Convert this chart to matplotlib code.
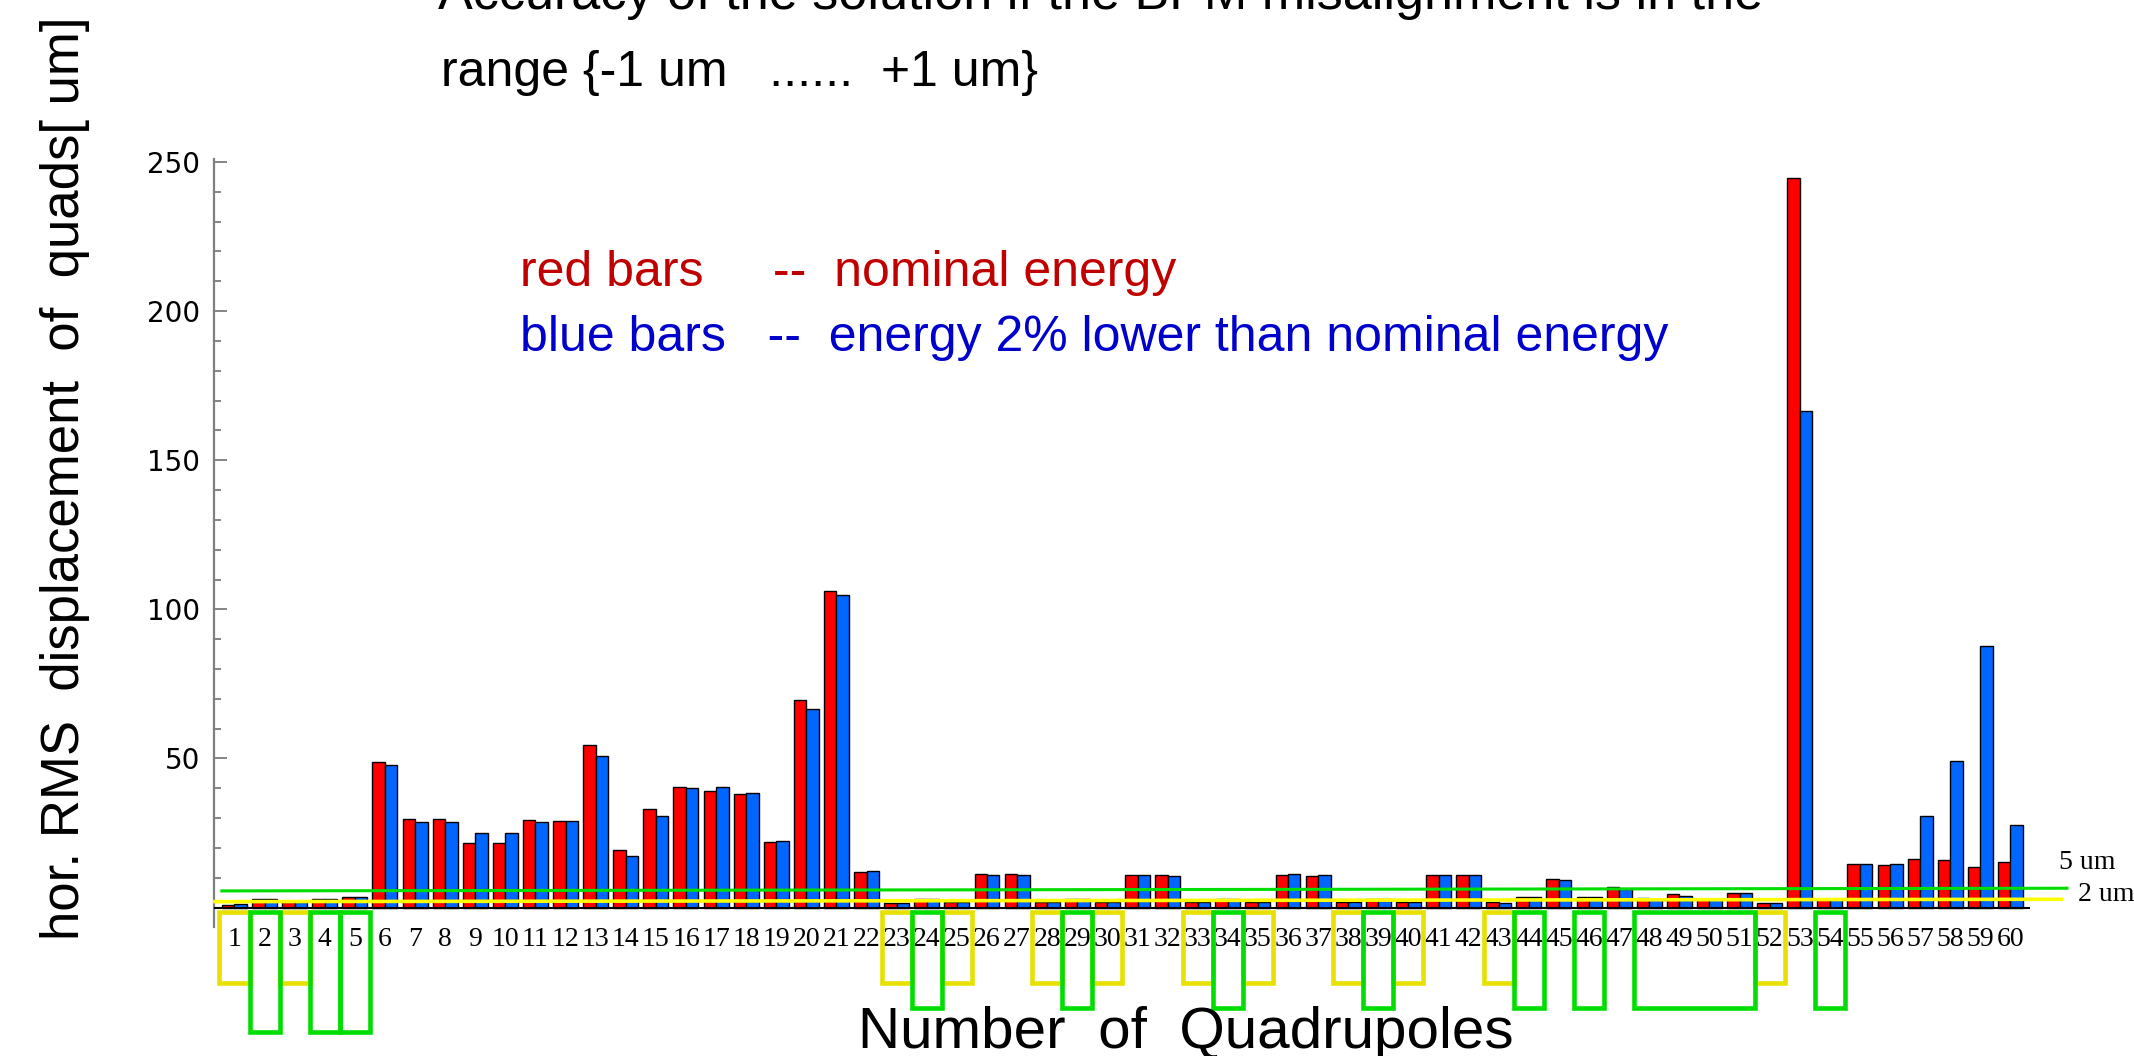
import matplotlib
matplotlib.use('Agg')
import matplotlib.pyplot as plt
from matplotlib.patches import Rectangle
from matplotlib.ticker import MultipleLocator
import numpy as np

# data
quads = list(range(1, 61))
red_nominal = [0.9, 2.8, 1.8, 2.8, 3.5, 48.7, 29.6, 29.6, 21.8, 21.7,
               29.4, 29.1, 54.4, 19.3, 33.2, 40.6, 39.1, 38.0, 21.9, 69.6,
               106.0, 12.1, 1.7, 2.9, 1.8, 11.2, 11.2, 1.8, 3.0, 1.8,
               10.8, 10.8, 1.8, 3.0, 1.8, 10.8, 10.6, 1.8, 3.0, 1.8,
               11.1, 11.1, 1.8, 3.7, 9.6, 3.7, 6.8, 3.2, 4.4, 3.0,
               4.9, 1.6, 244.6, 3.0, 14.6, 14.4, 16.2, 15.9, 13.5, 15.2]
blue_lower = [1.1, 2.8, 1.8, 2.8, 3.5, 47.7, 28.8, 28.6, 24.9, 25.1,
              28.8, 29.1, 50.7, 17.4, 30.6, 40.2, 40.6, 38.5, 22.5, 66.7,
              104.7, 12.3, 1.7, 3.0, 1.8, 10.8, 10.8, 1.8, 3.0, 1.8,
              10.8, 10.7, 1.8, 3.0, 1.8, 11.2, 10.8, 1.8, 3.0, 1.8,
              11.1, 11.1, 1.6, 3.6, 9.2, 3.4, 6.1, 3.0, 3.9, 2.8,
              4.8, 1.5, 166.4, 3.0, 14.7, 14.6, 30.7, 49.2, 87.7, 27.8]

limit_labels = ['5 um', '2 um']
green_level = [5.6, 6.5]    # drawn slightly tilted in the original
yellow_level = [2.0, 2.8]

yellow_boxes = [(1, 1), (3, 3), (23, 23), (25, 25), (28, 28), (30, 30), (33, 33),
                (35, 35), (38, 38), (40, 40), (43, 43), (52, 52)]
green_long = [(2, 2), (4, 4), (5, 5)]
green_short = [(24, 24), (29, 29), (34, 34), (39, 39), (44, 44), (46, 46),
               (48, 51), (54, 54)]

W, H = 2134, 1056


def fx(px):
    return px / W


def fy(py):
    return 1 - py / H


fig = plt.figure(figsize=(W / 100, H / 100), dpi=100)
ax = fig.add_axes([fx(214), fy(927), fx(2030) - fx(214), fy(159) - fy(927)])

x = np.array(quads)
w = 0.415
ax.bar(x - w, red_nominal, w, align='edge', color='#ff0000', edgecolor='black', linewidth=1.0, zorder=3)
ax.bar(x, blue_lower, w, align='edge', color='#0066ff', edgecolor='black', linewidth=1.0, zorder=3)

ax.set_xlim(0.32, 60.65)
ax.set_ylim(-6.5, 251)

ax.axhline(0, color='black', lw=1.5, zorder=4)

# limit lines, 2 um and 5 um
ax.plot([0.58, 61.88], green_level, color='#00dd00', lw=2.2, clip_on=False, zorder=5)
ax.plot([0.35, 61.7], yellow_level, color='#ffff00', lw=2.6, clip_on=False, zorder=5)
ax.text(61.6, 15.0, limit_labels[0], fontsize=20, family='Liberation Serif', va='center', ha='left')
ax.text(62.25, 4.5, limit_labels[1], fontsize=20, family='Liberation Serif', va='center', ha='left')

# boxes under the axis
for a, b in yellow_boxes:
    ax.add_patch(Rectangle((a - 0.5, -25.2), b - a + 1, 23.8, fill=False, ec='#e8e000',
                           lw=3.3, clip_on=False, zorder=6))
for a, b in green_long:
    ax.add_patch(Rectangle((a - 0.5, -41.7), b - a + 1, 40.3, fill=False, ec='#00dd00',
                           lw=3.3, clip_on=False, zorder=7))
for a, b in green_short:
    ax.add_patch(Rectangle((a - 0.5, -33.5), b - a + 1, 32.0, fill=False, ec='#00dd00',
                           lw=3.3, clip_on=False, zorder=7))

for s in ['top', 'right', 'bottom']:
    ax.spines[s].set_visible(False)
ax.spines['left'].set_color('#808080')
ax.spines['left'].set_linewidth(1.6)

ax.set_yticks([50, 100, 150, 200, 250])
ax.yaxis.set_minor_locator(MultipleLocator(10))
ax.tick_params(axis='y', which='major', direction='in', length=9, width=1.2, color='#707070',
               pad=10, labelsize=20)
ax.tick_params(axis='y', which='minor', direction='in', length=5, width=1.2, color='#707070')
for lab in ax.get_yticklabels():
    lab.set_family('DejaVu Sans')

ax.set_xticks(quads)
ax.set_xticklabels([str(q) for q in quads], family='Liberation Serif', fontsize=20)
ax.tick_params(axis='x', length=0, pad=0)

# texts
fig.text(fx(438), fy(9), 'Accuracy of the solution if the BPM misalignment is in the',
         fontsize=37.5, family='Liberation Sans', va='baseline', ha='left')
fig.text(fx(441), fy(86), 'range {-1 um   ......  +1 um}',
         fontsize=36, family='Liberation Sans', va='baseline', ha='left')

fig.text(fx(520), fy(286), 'red bars     --  nominal energy', color='#c00000',
         fontsize=36, family='Liberation Sans', va='baseline', ha='left')
fig.text(fx(520), fy(351), 'blue bars   --  energy 2% lower than nominal energy', color='#0000cc',
         fontsize=36, family='Liberation Sans', va='baseline', ha='left')

fig.text(fx(1186), fy(1048), 'Number  of  Quadrupoles', fontsize=42, family='Liberation Sans',
         va='baseline', ha='center')
fig.text(fx(79), fy(940), 'hor. RMS  displacement  of  quads[ um]', fontsize=38,
         family='Liberation Sans', rotation=90, rotation_mode='anchor', va='baseline', ha='left')

fig.savefig('out.png', dpi=100)
